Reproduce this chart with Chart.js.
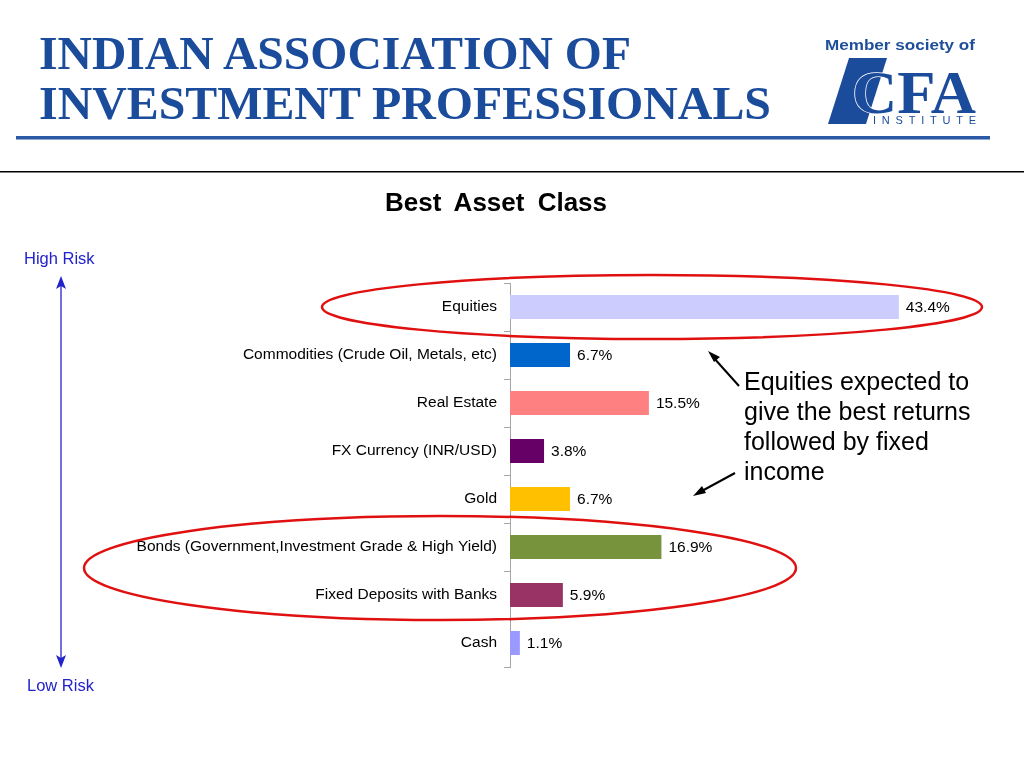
<!DOCTYPE html>
<html>
<head>
<meta charset="utf-8">
<script src="https://cdn.jsdelivr.net/npm/chart.js@4/dist/chart.umd.min.js"></script>
<style>
  body { margin: 0; background: #fff; }
  #wrap { position: relative; width: 1024px; height: 768px; overflow: hidden; }
  #chart { position: absolute; left: 0; top: 0; }
  #deco { position: absolute; left: 0; top: 0; }
</style>
</head>
<body>
<div id="wrap">
  <canvas id="chart" width="1024" height="768"></canvas>
  <svg id="deco" width="1024" height="768" xmlns="http://www.w3.org/2000/svg">
    <!-- header -->
    <g fill="#1B4C9C" font-family="'Liberation Serif', 'Times New Roman', serif" font-weight="bold" font-size="46">
      <text x="39" y="69" textLength="592" lengthAdjust="spacingAndGlyphs">INDIAN ASSOCIATION OF</text>
      <text x="39" y="119" textLength="732" lengthAdjust="spacingAndGlyphs">INVESTMENT PROFESSIONALS</text>
    </g>
    <text x="825" y="50" fill="#1F4E9A" font-family="'Liberation Sans', Arial, sans-serif" font-weight="bold" font-size="14" textLength="150" lengthAdjust="spacingAndGlyphs">Member society of</text>
    <polygon points="849,58 887,58 866,124 828,124" fill="#1B4C9C"/>
    <text x="852" y="113" fill="#1B4C9C" stroke="#fff" stroke-width="1.5" paint-order="stroke" font-family="'Liberation Serif', 'Times New Roman', serif" font-weight="bold" font-size="62" textLength="124" lengthAdjust="spacingAndGlyphs">CFA</text>
    <text x="873" y="124" fill="#1B4C9C" font-family="'Liberation Sans', Arial, sans-serif" font-size="11" textLength="103" lengthAdjust="spacing">INSTITUTE</text>
    <rect x="16" y="136" width="974" height="3" fill="#2B59A6"/>
    <rect x="16" y="139" width="974" height="1" fill="#8FA8D4"/>
    <rect x="0" y="171" width="1024" height="1.5" fill="#000"/>

    <!-- title -->
    <text x="385" y="211" fill="#000" font-family="'Liberation Sans', Arial, sans-serif" font-weight="bold" font-size="26" word-spacing="6">Best Asset Class</text>

    <!-- risk scale -->
    <g fill="#2222CC" font-family="'Liberation Sans', Arial, sans-serif" font-size="16.5">
      <text x="24" y="264">High Risk</text>
      <text x="27" y="691">Low Risk</text>
    </g>
    <line x1="61" y1="284" x2="61" y2="660" stroke="#2222CC" stroke-width="1.3"/>
    <polygon points="61,276 56,289 61,286 66,289" fill="#2222CC"/>
    <polygon points="61,668 56,655 61,658 66,655" fill="#2222CC"/>

    <!-- highlight ovals -->
    <ellipse cx="652" cy="307" rx="330" ry="32" fill="none" stroke="#E01010" stroke-width="2.5"/>
    <ellipse cx="440" cy="568" rx="356" ry="52" fill="none" stroke="#E01010" stroke-width="2.5"/>

    <!-- note -->
    <g fill="#000" font-family="'Liberation Sans', Arial, sans-serif" font-size="25">
      <text x="744" y="390">Equities expected to</text>
      <text x="744" y="420">give the best returns</text>
      <text x="744" y="450">followed by fixed</text>
      <text x="744" y="480">income</text>
    </g>
    <line x1="739" y1="386" x2="713" y2="357" stroke="#000" stroke-width="2"/>
    <polygon points="708,351 720,357 714,362" fill="#000"/>
    <line x1="735" y1="473" x2="700" y2="492" stroke="#000" stroke-width="2"/>
    <polygon points="693,496 702,486 706,493" fill="#000"/>
  </svg>
</div>
<script>
const categories = [
  'Equities',
  'Commodities (Crude Oil, Metals, etc)',
  'Real Estate',
  'FX Currency (INR/USD)',
  'Gold',
  'Bonds (Government,Investment Grade & High Yield)',
  'Fixed Deposits with Banks',
  'Cash'
];
const shares = [43.4, 6.7, 15.5, 3.8, 6.7, 16.9, 5.9, 1.1];
const barColors = ['#CCCCFF', '#0066CC', '#FF8080', '#660066', '#FFC000', '#77933C', '#993366', '#9999FF'];

// value labels at the end of each bar
const valueLabels = {
  id: 'valueLabels',
  afterDatasetsDraw(chart) {
    const ctx = chart.ctx;
    const meta = chart.getDatasetMeta(0);
    ctx.save();
    ctx.font = '15.5px "Liberation Sans", Arial, sans-serif';
    ctx.fillStyle = '#000';
    ctx.textBaseline = 'middle';
    ctx.textAlign = 'left';
    meta.data.forEach((bar, i) => {
      ctx.fillText(shares[i].toFixed(1) + '%', bar.x + 7, bar.y + 1);
    });
    ctx.restore();
  }
};

new Chart(document.getElementById('chart'), {
  type: 'bar',
  data: {
    labels: categories,
    datasets: [{
      data: shares,
      backgroundColor: barColors,
      borderWidth: 0,
      barPercentage: 0.5,
      categoryPercentage: 1
    }]
  },
  options: {
    indexAxis: 'y',
    responsive: false,
    animation: false,
    layout: { padding: { top: 283, bottom: 101, left: 0, right: 66 } },
    plugins: { legend: { display: false }, tooltip: { enabled: false } },
    scales: {
      x: { display: false, min: 0, max: 50 },
      y: {
        afterFit(scale) { scale.width = 510; },
        border: { display: true, color: '#A6A6A6', width: 1 },
        grid: { offset: true, drawOnChartArea: false, drawTicks: true, tickLength: 6, color: '#A6A6A6' },
        ticks: {
          autoSkip: false,
          padding: 7,
          color: '#000',
          font: { family: '"Liberation Sans", Arial, sans-serif', size: 15.5 }
        }
      }
    }
  },
  plugins: [valueLabels]
});
</script>
</body>
</html>
